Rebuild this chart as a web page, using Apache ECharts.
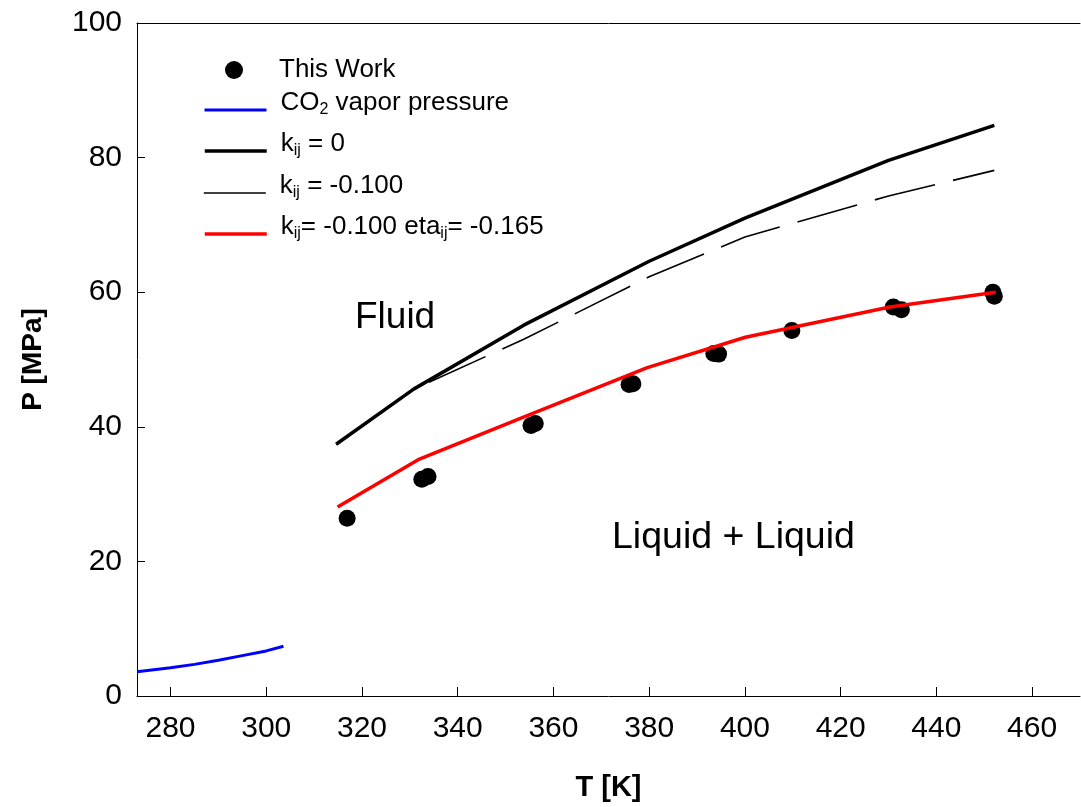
<!DOCTYPE html>
<html>
<head>
<meta charset="utf-8">
<script src="https://cdn.jsdelivr.net/npm/echarts@6/dist/echarts.min.js"></script>
<style>
html,body{margin:0;padding:0;background:#fff;}
#chart{width:1081px;height:807px;}
</style>
</head>
<body>
<div id="chart"></div>
<script>
// ---- data ----
var xTicks = [280, 300, 320, 340, 360, 380, 400, 420, 440, 460];

var workT = [316.9, 332.5, 333.8, 355.3, 356.2, 375.8, 376.6, 393.5, 394.5, 409.8, 431.0, 432.7, 451.8, 452.1];
var workP = [26.4, 32.2, 32.6, 40.2, 40.5, 46.3, 46.4, 50.9, 50.8, 54.3, 57.8, 57.4, 60.0, 59.4];

var vapT = [273.0, 280.0, 285.0, 290.0, 295.0, 300.0, 303.6];
var vapP = [3.6, 4.2, 4.7, 5.3, 6.0, 6.7, 7.4];

var modelT = [314.6, 330.8, 353.8, 380.0, 400.0, 430.0, 452.1];
var k0P = [37.4, 45.6, 55.1, 64.6, 71.0, 79.6, 84.8];
var k1P = [37.4, 45.6, 53.0, 62.3, 68.2, 74.3, 78.1];

var etaT = [314.9, 332.0, 354.0, 379.6, 400.1, 430.3, 452.4];
var etaP = [28.1, 35.2, 41.5, 48.8, 53.3, 57.8, 60.0];

var names = ['This Work', 'CO2 vapor pressure', 'kij = 0', 'kij = -0.100', 'kij= -0.100 etaij= -0.165'];
var legendLabels = {
  'This Work': 'This Work',
  'CO2 vapor pressure': 'CO{sub|2} vapor pressure',
  'kij = 0': 'k{sub|ij} = 0',
  'kij = -0.100': 'k{sub|ij} = -0.100',
  'kij= -0.100 etaij= -0.165': 'k{sub|ij}= -0.100 eta{sub|ij}= -0.165'
};

function pairs(xs, ys) { return xs.map(function (x, i) { return [x, ys[i]]; }); }

var chart = echarts.init(document.getElementById('chart'), null, {renderer: 'canvas'});
var FONT = 'Liberation Sans, Arial, sans-serif';

var legendTops = [70, 103, 144, 186, 227];
var legendLefts = [225, 203, 203, 203, 203];
var legendLine = [null, {color: '#0000ff', width: 3}, {color: '#000', width: 3.5}, {color: '#000', width: 1.6}, {color: '#ff0000', width: 3.5}];
var legends = names.map(function (n, i) {
  var l = {
    data: [n],
    orient: 'vertical',
    left: legendLefts[i],
    top: legendTops[i] - 15,
    padding: 0,
    itemWidth: 62,
    itemHeight: 18,
    selectedMode: false,
    formatter: function (name) { return legendLabels[name]; },
    textStyle: {
      fontFamily: FONT, fontSize: 26, color: '#000', lineHeight: 30,
      padding: i === 0 ? [0, 0, 0, 9] : [0, 0, 14, 9],
      rich: {
        sub: {fontFamily: FONT, fontSize: 16, lineHeight: 12, verticalAlign: 'bottom', color: '#000'}
      }
    }
  };
  if (legendLine[i]) {
    l.itemStyle = {opacity: 0};
    l.lineStyle = {color: legendLine[i].color, width: legendLine[i].width, type: 'solid', opacity: 1};
  } else {
    l.itemStyle = {color: '#000', opacity: 1};
  }
  return l;
});

var option = {
  animation: false,
  backgroundColor: '#fff',
  grid: {left: 137, top: 23, right: 1, bottom: 111, containLabel: false},
  legend: legends,
  xAxis: [{
    type: 'value', min: 273, max: 470,
    name: 'T [K]', nameLocation: 'middle', nameGap: 77,
    nameTextStyle: {fontFamily: FONT, fontSize: 29, fontWeight: 'bold', color: '#000'},
    axisLine: {show: true, lineStyle: {color: '#000', width: 1}},
    axisTick: {show: true, inside: true, length: 9, customValues: xTicks, lineStyle: {color: '#000'}},
    axisLabel: {show: true, customValues: xTicks, margin: 18, fontFamily: FONT, fontSize: 30, color: '#000'},
    splitLine: {show: false}
  }, {
    type: 'value', min: 273, max: 470, position: 'top',
    axisLine: {show: true, onZero: false, lineStyle: {color: '#000', width: 1}},
    axisTick: {show: false}, axisLabel: {show: false}, splitLine: {show: false}
  }],
  yAxis: {
    type: 'value', min: 0, max: 100, interval: 20,
    name: 'P [MPa]', nameLocation: 'middle', nameGap: 90, nameRotate: 90,
    nameTextStyle: {fontFamily: FONT, fontSize: 28, fontWeight: 'bold', color: '#000'},
    axisLine: {show: true, lineStyle: {color: '#000', width: 1}},
    axisTick: {show: true, inside: true, length: 8, lineStyle: {color: '#000'}},
    axisLabel: {margin: 15, fontFamily: FONT, fontSize: 30, color: '#000'},
    splitLine: {show: false}
  },
  series: [
    {
      name: names[0], type: 'scatter', data: pairs(workT, workP),
      symbol: 'circle', symbolSize: 17, itemStyle: {color: '#000', opacity: 1}, z: 2
    },
    {
      name: names[1], type: 'line', data: pairs(vapT, vapP), symbol: 'none', smooth: false,
      lineStyle: {color: '#0000ff', width: 3}, itemStyle: {color: '#0000ff'}, z: 3
    },
    {
      name: names[2], type: 'line', data: pairs(modelT, k0P), symbol: 'none',
      lineStyle: {color: '#000', width: 3.5}, itemStyle: {color: '#000'}, z: 3
    },
    {
      name: names[3], type: 'line', data: pairs(modelT, k1P), symbol: 'none',
      lineStyle: {color: '#000', width: 1.6, type: [62, 18.5], dashOffset: 49}, itemStyle: {color: '#000'}, z: 3
    },
    {
      name: names[4], type: 'line', data: pairs(etaT, etaP), symbol: 'none',
      lineStyle: {color: '#ff0000', width: 3.5}, itemStyle: {color: '#ff0000'}, z: 4
    }
  ],
  graphic: [
    {type: 'text', left: 355, top: 299, style: {text: 'Fluid', fontFamily: FONT, fontSize: 37, fill: '#000'}},
    {type: 'text', left: 612, top: 519, style: {text: 'Liquid + Liquid', fontFamily: FONT, fontSize: 37.5, fill: '#000'}}
  ]
};
chart.setOption(option);
</script>
</body>
</html>
